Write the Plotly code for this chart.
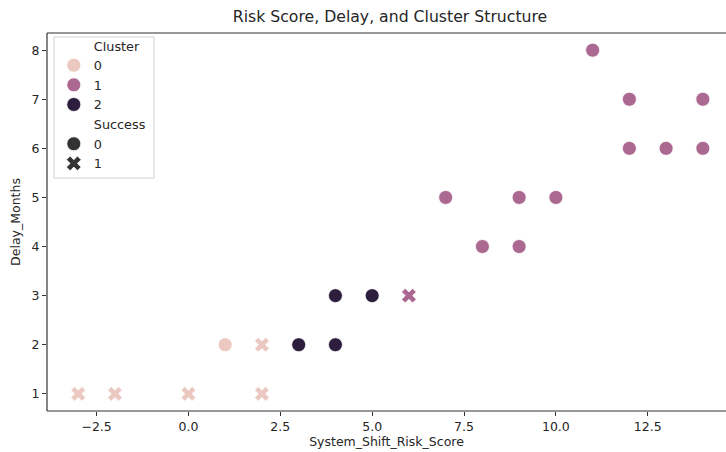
import plotly.graph_objects as go

# Data
risk_score = [-3, -2, 0, 2, 2, 1, 3, 4, 4, 5, 6, 7, 8, 9, 9, 10, 11, 12, 12, 13, 14, 14]
delay_months = [1, 1, 1, 1, 2, 2, 2, 2, 3, 3, 3, 5, 4, 5, 4, 5, 8, 7, 6, 6, 7, 6]
cluster = [0, 0, 0, 0, 0, 0, 2, 2, 2, 2, 1, 1, 1, 1, 1, 1, 1, 1, 1, 1, 1, 1]
success = [1, 1, 1, 1, 1, 0, 0, 0, 0, 0, 1, 0, 0, 0, 0, 0, 0, 0, 0, 0, 0, 0]

cluster_levels = [0, 1, 2]
success_levels = [0, 1]
cluster_colors = {0: "#ebc9c1", 1: "#ab6891", 2: "#2d1e3e"}
success_symbols = {0: "circle", 1: "x"}

FONT = "DejaVu Sans"
fig = go.Figure()

for c in cluster_levels:
    for s in success_levels:
        xs = [x for x, cc, ss in zip(risk_score, cluster, success) if cc == c and ss == s]
        ys = [y for y, cc, ss in zip(delay_months, cluster, success) if cc == c and ss == s]
        if not xs:
            continue
        fig.add_trace(go.Scatter(
            x=xs, y=ys, mode="markers", showlegend=False,
            marker=dict(color=cluster_colors[c], symbol=success_symbols[s],
                        size=14 if s == 0 else 13,
                        line=dict(color="white", width=0.8)),
        ))

# Legend entries (seaborn style)
def legend_entry(name, color, symbol, opacity=1.0):
    fig.add_trace(go.Scatter(
        x=[None], y=[None], mode="markers", name=name,
        marker=dict(color=color, symbol=symbol, size=14 if symbol == "circle" else 13,
                    opacity=opacity, line=dict(color="white", width=0.8)),
    ))

legend_entry("Cluster", "rgba(0,0,0,0)", "circle", 0)
for c in cluster_levels:
    legend_entry(str(c), cluster_colors[c], "circle")
legend_entry("Success", "rgba(0,0,0,0)", "circle", 0)
for s in success_levels:
    legend_entry(str(s), "#333333", success_symbols[s])

axis_common = dict(
    showgrid=False, zeroline=False, showline=False,
    ticks="outside", ticklen=4, tickwidth=1, tickcolor="#333333",
    tickfont=dict(family=FONT, size=12.5, color="#262626"),
)

fig.update_layout(
    width=726, height=452,
    margin=dict(l=47, r=0, t=33, b=41),
    paper_bgcolor="white", plot_bgcolor="white",
    font=dict(family=FONT, color="#262626"),
    title=dict(text="Risk Score, Delay, and Cluster Structure",
               x=390 / 726, xanchor="center", y=1 - 17 / 452, yanchor="middle",
               font=dict(family=FONT, size=15.7, color="#262626")),
    xaxis=dict(range=[-3.85, 14.63], tickvals=[-2.5, 0, 2.5, 5, 7.5, 10, 12.5],
               ticktext=["\u22122.5", "0.0", "2.5", "5.0", "7.5", "10.0", "12.5"],
               title=dict(text="System_Shift_Risk_Score", standoff=4,
                          font=dict(family=FONT, size=12.5, color="#262626")),
               **axis_common),
    yaxis=dict(range=[0.65, 8.35], tickvals=[1, 2, 3, 4, 5, 6, 7, 8],
               title=dict(text="Delay_Months", standoff=8,
                          font=dict(family=FONT, size=12.5, color="#262626")),
               **axis_common),
    legend=dict(x=0.01, y=1.006, xanchor="left", yanchor="top",
                bgcolor="rgba(0,0,0,0)", borderwidth=0,
                font=dict(family=FONT, size=12.8, color="#262626"),
                itemsizing="trace", tracegroupgap=0),
    shapes=[
        dict(type="rect", xref="paper", yref="paper", x0=0.0103, x1=0.1576,
             y0=0.6164, y1=0.9894, layer="above", fillcolor="rgba(255,255,255,0.8)",
             line=dict(color="#d0d0d0", width=1)),
        dict(type="line", xref="paper", yref="paper", x0=0, x1=0, y0=0, y1=1,
             line=dict(color="#333333", width=1.2)),
        dict(type="line", xref="paper", yref="paper", x0=0, x1=1, y0=0, y1=0,
             line=dict(color="#333333", width=1.2)),
        dict(type="line", xref="paper", yref="paper", x0=0, x1=1, y0=1, y1=1,
             line=dict(color="#333333", width=1.2)),
    ],
)

fig.write_html("out.html", config={"displayModeBar": False},
               post_script="document.body.style.margin='0';document.body.style.overflow='hidden';")
